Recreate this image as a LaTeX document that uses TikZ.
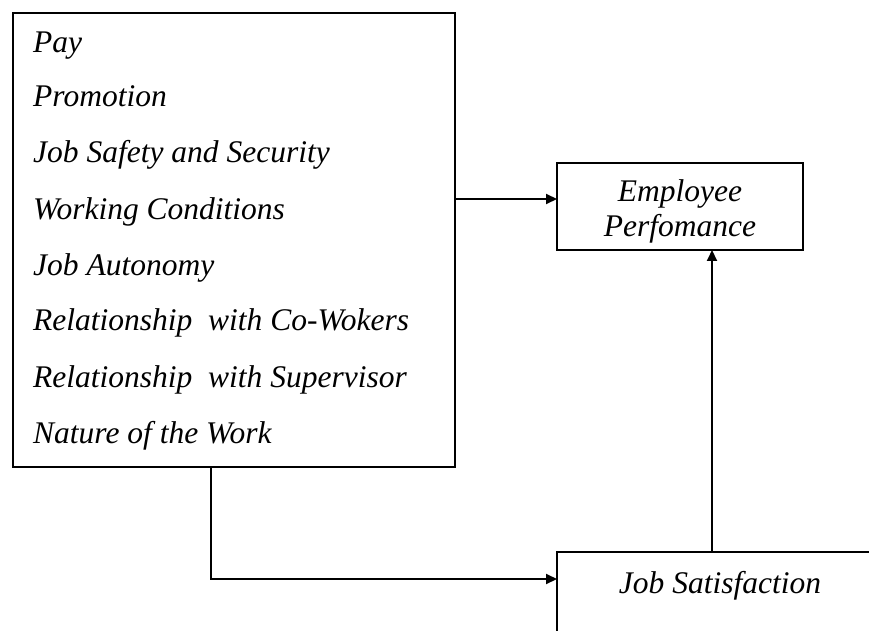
\documentclass[tikz,border=0pt]{standalone}
\usepackage{fontspec}
\setmainfont{Liberation Serif}
\usetikzlibrary{arrows.meta}
\begin{document}
\begin{tikzpicture}[x=1pt,y=1pt,
  box/.style={draw, line width=2pt, inner sep=0pt, outer sep=0pt},
  item/.style={anchor=base west, inner sep=0pt, font=\fontsize{31.5}{36}\selectfont\itshape},
  lbl/.style={inner sep=0pt, font=\fontsize{31.5}{36}\selectfont\itshape, align=center},
  arr/.style={line width=2pt, -{Triangle[length=11pt,width=10pt]}}]
\useasboundingbox (0,0) rectangle (869,630);
\clip (0,0) rectangle (869,630);
\fill[white] (0,0) rectangle (869,630);
% boxes
\node[box, minimum width=442, minimum height=454, anchor=north west] (factors) at (13,617) {};
\node[box, minimum width=246, minimum height=87, anchor=north west] (ep) at (557,467) {};
\node[box, minimum width=400, minimum height=140, anchor=north west] (js) at (557,78) {};
% texts
\node[item] (t1) at (33,577) {Pay};
\node[item] (t2) at (33,523) {Promotion};
\node[item] (t3) at (33,467) {Job Safety and Security};
\node[item] (t4) at (33,410) {Working Conditions};
\node[item] (t5) at (33,355) {Job Autonomy};
\node[item] (t6) at (33,300) {Relationship\ \ with Co-Wokers};
\node[item] (t7) at (33,243) {Relationship\ \ with Supervisor};
\node[item] (t8) at (33,187) {Nature of the Work};
\node[lbl, anchor=base] (epl1) at (680,428) {Employee};
\node[lbl, anchor=base] (epl2) at (680,393) {Perfomance};
\node[lbl, anchor=base] (jsl) at (720,37) {Job Satisfaction};
% connector points
\coordinate (epin) at (557,431);
\coordinate (jsout) at (712,78);
\coordinate (fout) at (211,163);
\coordinate (jsin) at (557,51);
% connectors
\draw[arr] (factors.east |- epin) -- (epin);
\draw[arr] (jsout) -- (jsout |- ep.south);
\draw[arr] (fout) |- (jsin);
\end{tikzpicture}
\end{document}
